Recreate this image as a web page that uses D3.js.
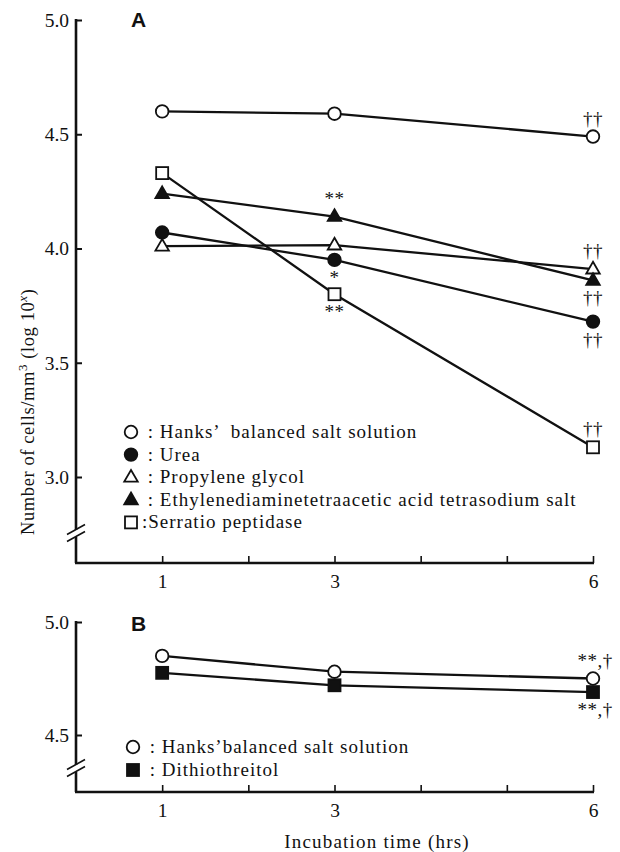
<!DOCTYPE html>
<html><head><meta charset="utf-8">
<script src="https://cdn.jsdelivr.net/npm/d3@7"></script>
<style>
body{margin:0;background:#fff;}
svg text{font-family:"Liberation Serif","DejaVu Serif",serif;fill:#111;}
</style></head>
<body>
<svg id="chart" width="620" height="852"></svg>
<script>
// ---- data ----
const times = [1, 3, 6];
const xTicks = [1, 2, 3, 4, 5, 6];
const xTickLabels = ["1", "", "3", "", "", "6"];
const yTicksA = [3.0, 3.5, 4.0, 4.5, 5.0];
const yTicksB = [4.5, 5.0];

const seriesNamesA = ["Hanks’  balanced salt solution", "Urea", "Propylene glycol",
  "Ethylenediaminetetraacetic acid tetrasodium salt", "Serratio peptidase"];
const seriesSymbolsA = ["circleOpen", "circleFilled", "triOpen", "triFilled", "squareOpen"];
const hanksA = [4.60, 4.59, 4.49];
const urea = [4.07, 3.95, 3.68];
const propylene = [4.01, 4.015, 3.91];
const edta = [4.24, 4.14, 3.86];
const serratio = [4.33, 3.80, 3.13];
const valuesA = [hanksA, urea, propylene, edta, serratio];

const seriesNamesB = ["Hanks’balanced salt solution", "Dithiothreitol"];
const seriesSymbolsB = ["circleOpen", "squareFilled"];
const hanksB = [4.85, 4.78, 4.75];
const dtt = [4.775, 4.72, 4.69];
const valuesB = [hanksB, dtt];

// annotations: [series index, time index, text, side]
const notesA = [
  [0, 2, "††", "above"],
  [3, 1, "**", "above"],
  [1, 1, "*", "below"],
  [4, 1, "**", "below"],
  [2, 2, "††", "above"],
  [3, 2, "††", "below"],
  [1, 2, "††", "below"],
  [4, 2, "††", "above"]
];
const notesB = [
  [0, 2, "**,†", "above"],
  [1, 2, "**,†", "below"]
];

// ---- drawing ----
const SERIF = "'Liberation Serif', 'DejaVu Serif', serif";
const svg = d3.select("#chart");
const x = d3.scaleLinear().domain([0, 6]).range([76, 593]);
const axX = 76;

function drawSymbol(g, type, cx, cy) {
  const open = type.endsWith("Open");
  const fill = open ? "#fff" : "#111";
  let el;
  if (type.startsWith("circle")) {
    el = g.append("circle").attr("cx", cx).attr("cy", cy).attr("r", 6.3);
  } else if (type.startsWith("square")) {
    el = g.append("rect").attr("x", cx - 6).attr("y", cy - 6).attr("width", 12).attr("height", 12);
  } else {
    const s = 13.5, h = s * 0.866;
    el = g.append("path").attr("d", `M${cx},${cy - h * 0.62}L${cx + s / 2},${cy + h * 0.38}L${cx - s / 2},${cy + h * 0.38}Z`);
  }
  el.attr("stroke", "#111").attr("stroke-width", 1.8).attr("fill", fill);
}

function panel(opts) {
  const {y, yTicks, values, symbols, names, notes, label, labelY, legendX, legendY0, legendStep, axisBottomY, breakY, topY} = opts;
  const g = svg.append("g");

  // y axis with inward ticks
  const yAxis = d3.axisLeft(y).tickValues(yTicks).tickFormat(d3.format(".1f"))
    .tickSizeInner(-6).tickSizeOuter(0).tickPadding(7);
  const ya = g.append("g").attr("transform", `translate(${axX},0)`).call(yAxis);
  ya.select(".domain").remove();
  ya.selectAll(".tick line").attr("stroke", "#111").attr("stroke-width", 2);
  ya.selectAll(".tick text").style("font-size", "19.5px").style("fill", "#111")
    .style("font-family", SERIF);

  // y axis line with break
  g.append("line").attr("x1", axX).attr("x2", axX).attr("y1", topY - 1).attr("y2", breakY - 3)
    .attr("stroke", "#111").attr("stroke-width", 2.6);
  g.append("line").attr("x1", axX).attr("x2", axX).attr("y1", breakY + 4).attr("y2", axisBottomY)
    .attr("stroke", "#111").attr("stroke-width", 2.6);
  [-3.5, 3.5].forEach(d => {
    g.append("line").attr("x1", axX - 9).attr("x2", axX + 9)
      .attr("y1", breakY + d + 5).attr("y2", breakY + d - 5)
      .attr("stroke", "#111").attr("stroke-width", 1.6);
  });

  // x axis
  const xAxis = d3.axisBottom(x).tickValues(xTicks).tickFormat((d, i) => xTickLabels[i])
    .tickSizeInner(-7).tickSizeOuter(0).tickPadding(11);
  const xa = g.append("g").attr("transform", `translate(0,${axisBottomY})`).call(xAxis);
  xa.select(".domain").remove();
  g.append("line").attr("x1", axX - 1).attr("x2", x(6) + 1).attr("y1", axisBottomY).attr("y2", axisBottomY)
    .attr("stroke", "#111").attr("stroke-width", 2.6);
  xa.selectAll(".tick line").attr("stroke", "#111").attr("stroke-width", 1.6);
  xa.selectAll(".tick text").style("font-size", "19.5px").style("fill", "#111")
    .style("font-family", SERIF);

  // panel label
  g.append("text").attr("x", 131).attr("y", labelY).text(label)
    .style("font-size", "21px").style("font-weight", "bold")
    .style("font-family", "'Liberation Sans', Arial, sans-serif");

  // lines
  const line = d3.line().x((d, i) => x(times[i])).y(d => y(d));
  values.forEach(v => {
    g.append("path").attr("d", line(v)).attr("fill", "none")
      .attr("stroke", "#111").attr("stroke-width", 2.3);
  });
  // markers
  values.forEach((v, si) => {
    v.forEach((d, i) => drawSymbol(g, symbols[si], x(times[i]), y(d)));
  });
  // annotations
  notes.forEach(([si, ti, t, side]) => {
    const cx = x(times[ti]), cy = y(values[si][ti]);
    g.append("text").attr("x", cx + (t.length > 2 ? 2 : 0)).attr("y", side === "above" ? cy - 12 : cy + 24)
      .attr("text-anchor", "middle").style("font-size", "19px").style("font-family", SERIF)
      .style("letter-spacing", "0.5px").text(t);
  });
  // legend
  names.forEach((n, i) => {
    const ly = legendY0 + i * legendStep;
    drawSymbol(g, symbols[i], legendX, ly);
    g.append("text").attr("x", legendX + 11).attr("y", ly + 6)
      .style("font-size", "19px").style("font-family", SERIF)
      .style("letter-spacing", "1px").style("white-space", "pre")
      .text(symbols[i] === "squareOpen" ? ":" + n : " : " + n);
  });
}

const yA = d3.scaleLinear().domain([3.0, 5.0]).range([477, 20]);
panel({y: yA, yTicks: yTicksA, values: valuesA, symbols: seriesSymbolsA, names: seriesNamesA,
  notes: notesA, label: "A", labelY: 27, legendX: 131, legendY0: 432, legendStep: 22.6,
  axisBottomY: 563, breakY: 533, topY: 20});

const yB = d3.scaleLinear().domain([4.5, 5.0]).range([735, 622]);
panel({y: yB, yTicks: yTicksB, values: valuesB, symbols: seriesSymbolsB, names: seriesNamesB,
  notes: notesB, label: "B", labelY: 631, legendX: 133, legendY0: 747, legendStep: 23,
  axisBottomY: 792, breakY: 768, topY: 622});

// axis titles
const yl = svg.append("text").attr("transform", "translate(34,535) rotate(-90)")
  .attr("text-anchor", "start").style("font-size", "18.5px").style("font-family", SERIF)
  .style("letter-spacing", "0.6px");
yl.append("tspan").text("Number of cells/mm");
yl.append("tspan").attr("dy", -7).style("font-size", "13px").text("3");
yl.append("tspan").attr("dy", 7).text(" (log 10");
yl.append("tspan").attr("dy", -7).style("font-size", "13px").style("font-style", "italic").text("x");
yl.append("tspan").attr("dy", 7).text(")");

svg.append("text").attr("x", 377).attr("y", 848).attr("text-anchor", "middle")
  .style("font-size", "19px").style("font-family", SERIF).style("letter-spacing", "1.2px")
  .text("Incubation time (hrs)");
</script>
</body></html>
